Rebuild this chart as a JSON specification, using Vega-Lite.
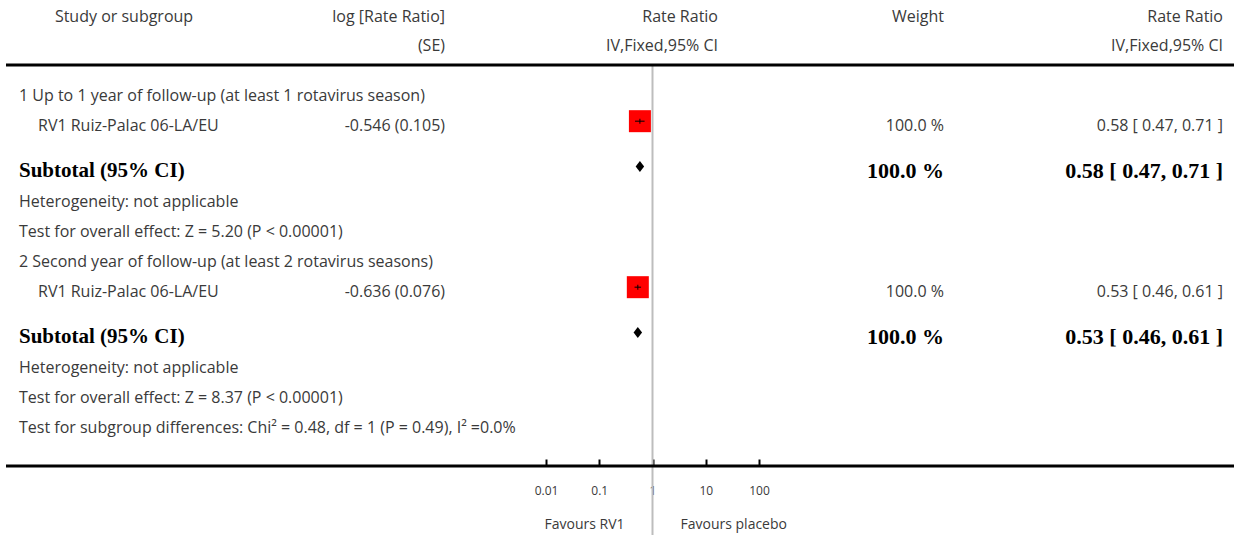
{
  "$schema": "https://vega.github.io/schema/vega-lite/v6.json",
  "width": 1234,
  "height": 535,
  "autosize": {"type": "none"},
  "padding": 0,
  "background": "white",
  "config": {
    "view": {"stroke": null},
    "text": {"font": "Open Sans", "fontSize": 16, "color": "#3a3a3a", "baseline": "middle"}
  },
  "datasets": {
    "header": [
      {"line": "1", "col": "study", "text": "Study or subgroup"},
      {"line": "1", "col": "se", "text": "log [Rate Ratio]"},
      {"line": "2", "col": "se", "text": "(SE)"},
      {"line": "1", "col": "rr", "text": "Rate Ratio"},
      {"line": "2", "col": "rr", "text": "IV,Fixed,95% CI"},
      {"line": "1", "col": "weight", "text": "Weight"},
      {"line": "1", "col": "ci", "text": "Rate Ratio"},
      {"line": "2", "col": "ci", "text": "IV,Fixed,95% CI"}
    ],
    "rows": [
      {"row": "1", "kind": "group", "label": "1 Up to 1 year of follow-up (at least 1 rotavirus season)"},
      {"row": "2", "kind": "study", "label": "RV1 Ruiz-Palac 06-LA/EU", "se": "-0.546 (0.105)", "weight": "100.0 %", "ci": "0.58 [ 0.47, 0.71 ]", "est": 0.58, "lo": 0.47, "hi": 0.71},
      {"row": "3", "kind": "subtotal", "label": "Subtotal (95% CI)", "weight": "100.0 %", "ci": "0.58 [ 0.47, 0.71 ]", "est": 0.58, "lo": 0.47, "hi": 0.71},
      {"row": "4", "kind": "note", "label": "Heterogeneity: not applicable"},
      {"row": "5", "kind": "note", "label": "Test for overall effect: Z = 5.20 (P < 0.00001)"},
      {"row": "6", "kind": "group", "label": "2 Second year of follow-up (at least 2 rotavirus seasons)"},
      {"row": "7", "kind": "study", "label": "RV1 Ruiz-Palac 06-LA/EU", "se": "-0.636 (0.076)", "weight": "100.0 %", "ci": "0.53 [ 0.46, 0.61 ]", "est": 0.53, "lo": 0.46, "hi": 0.61},
      {"row": "8", "kind": "subtotal", "label": "Subtotal (95% CI)", "weight": "100.0 %", "ci": "0.53 [ 0.46, 0.61 ]", "est": 0.53, "lo": 0.46, "hi": 0.61},
      {"row": "9", "kind": "note", "label": "Heterogeneity: not applicable"},
      {"row": "10", "kind": "note", "label": "Test for overall effect: Z = 8.37 (P < 0.00001)"},
      {"row": "11", "kind": "note", "label": "Test for subgroup differences: Chi² = 0.48, df = 1 (P = 0.49), I² =0.0%"}
    ],
    "lines": [{"line": "top"}, {"line": "bottom"}],
    "favours": [{"side": "left", "text": "Favours RV1"}, {"side": "right", "text": "Favours placebo"}]
  },
  "resolve": {"scale": {"x": "independent", "y": "independent"}},
  "layer": [
    {
      "data": {"name": "header"},
      "encoding": {
        "y": {"field": "line", "type": "nominal", "scale": {"type": "point", "domain": ["1", "2"], "range": [17, 46], "padding": 0}, "axis": null},
        "text": {"field": "text"}
      },
      "layer": [
        {"transform": [{"filter": "datum.col == 'study'"}], "mark": {"type": "text", "align": "center"}, "encoding": {"x": {"value": 124}}},
        {"transform": [{"filter": "datum.col == 'se'"}], "mark": {"type": "text", "align": "right"}, "encoding": {"x": {"value": 445}}},
        {"transform": [{"filter": "datum.col == 'rr'"}], "mark": {"type": "text", "align": "right"}, "encoding": {"x": {"value": 718}}},
        {"transform": [{"filter": "datum.col == 'weight'"}], "mark": {"type": "text", "align": "right"}, "encoding": {"x": {"value": 944}}},
        {"transform": [{"filter": "datum.col == 'ci'"}], "mark": {"type": "text", "align": "right"}, "encoding": {"x": {"value": 1223}}}
      ]
    },
    {
      "data": {"name": "rows"},
      "encoding": {
        "y": {"field": "row", "type": "nominal", "scale": {"type": "point", "domain": ["1", "s1", "2", "s2a", "s2b", "3", "s3", "4", "s4", "5", "s5", "6", "s6", "7", "s7a", "s7b", "8", "s8", "9", "s9", "10", "s10", "11"], "range": [96, 428], "padding": 0}, "axis": null}
      },
      "layer": [
        {"transform": [{"filter": "datum.kind == 'group' || datum.kind == 'note'"}], "mark": {"type": "text", "align": "left"}, "encoding": {"x": {"value": 19}, "text": {"field": "label"}}},
        {"transform": [{"filter": "datum.kind == 'study'"}], "mark": {"type": "text", "align": "left"}, "encoding": {"x": {"value": 38}, "text": {"field": "label"}}},
        {"transform": [{"filter": "datum.kind == 'study'"}], "mark": {"type": "text", "align": "right"}, "encoding": {"x": {"value": 445}, "text": {"field": "se"}}},
        {"transform": [{"filter": "datum.kind == 'study'"}], "mark": {"type": "text", "align": "right"}, "encoding": {"x": {"value": 944}, "text": {"field": "weight"}}},
        {"transform": [{"filter": "datum.kind == 'study'"}], "mark": {"type": "text", "align": "right"}, "encoding": {"x": {"value": 1223}, "text": {"field": "ci"}}},
        {"transform": [{"filter": "datum.kind == 'subtotal'"}], "mark": {"type": "text", "align": "left", "font": "Liberation Serif", "fontWeight": "bold", "fontSize": 21, "color": "black"}, "encoding": {"x": {"value": 19}, "text": {"field": "label"}}},
        {"transform": [{"filter": "datum.kind == 'subtotal'"}], "mark": {"type": "text", "align": "right", "font": "Liberation Serif", "fontWeight": "bold", "fontSize": 22, "color": "black"}, "encoding": {"x": {"value": 944}, "text": {"field": "weight"}}},
        {"transform": [{"filter": "datum.kind == 'subtotal'"}], "mark": {"type": "text", "align": "right", "font": "Liberation Serif", "fontWeight": "bold", "fontSize": 22, "color": "black"}, "encoding": {"x": {"value": 1223}, "text": {"field": "ci"}}},
        {
          "transform": [{"filter": "datum.kind == 'study'"}],
          "mark": {"type": "point", "shape": "square", "filled": true, "size": 484, "color": "#ff0000", "opacity": 1, "strokeWidth": 0, "yOffset": -5},
          "encoding": {"x": {"field": "est", "type": "quantitative", "scale": {"type": "log", "domain": [0.01, 100], "range": [546, 759]}, "axis": null}}
        },
        {
          "transform": [{"filter": "datum.kind == 'study'"}],
          "mark": {"type": "rule", "color": "black", "strokeWidth": 1, "yOffset": -5},
          "encoding": {"x": {"field": "lo", "type": "quantitative"}, "x2": {"field": "hi"}}
        },
        {
          "transform": [{"filter": "datum.kind == 'study'"}],
          "mark": {"type": "tick", "orient": "vertical", "color": "black", "size": 5, "thickness": 1, "opacity": 1, "yOffset": -5},
          "encoding": {"x": {"field": "est", "type": "quantitative"}}
        },
        {
          "transform": [{"filter": "datum.kind == 'subtotal'"}],
          "mark": {"type": "point", "shape": "M-1,0L0,-1.3L1,0L0,1.3Z", "filled": true, "size": 72, "color": "black", "opacity": 1, "strokeWidth": 0, "yOffset": -5},
          "encoding": {"x": {"field": "est", "type": "quantitative"}}
        }
      ]
    },
    {
      "data": {"name": "lines"},
      "encoding": {
        "y": {"field": "line", "type": "nominal", "scale": {"type": "point", "domain": ["top", "bottom"], "range": [65, 466], "padding": 0}, "axis": null}
      },
      "layer": [
        {
          "transform": [{"filter": "datum.line == 'top'"}],
          "mark": {"type": "rule", "color": "#bdbdbd", "strokeWidth": 2},
          "encoding": {
            "x": {"datum": 1, "type": "quantitative", "scale": {"type": "log", "domain": [0.01, 100], "range": [546, 759]},
              "axis": {"orient": "bottom", "offset": -69, "domain": false, "grid": false, "ticks": true, "tickSize": -7, "tickWidth": 2, "tickColor": "black", "values": [0.01, 0.1, 1, 10, 100], "format": "~g", "labelFont": "Open Sans", "labelFontSize": 12, "labelColor": "#3a3a3a", "labelPadding": 26, "title": null, "labelFlush": false, "labelOverlap": false}},
            "y2": {"value": "height"}
          }
        },
        {
          "mark": {"type": "rule", "color": "black", "strokeWidth": 3},
          "encoding": {"x": {"value": 6}, "x2": {"value": "width"}}
        },
        {
          "data": {"name": "favours"},
          "transform": [{"filter": "datum.side == 'left'"}],
          "mark": {"type": "text", "align": "right", "baseline": "bottom", "fontSize": 14, "dx": -28, "dy": -3},
          "encoding": {"x": {"datum": 1, "type": "quantitative"}, "y": {"value": "height"}, "text": {"field": "text"}}
        },
        {
          "data": {"name": "favours"},
          "transform": [{"filter": "datum.side == 'right'"}],
          "mark": {"type": "text", "align": "left", "baseline": "bottom", "fontSize": 14, "dx": 28, "dy": -3},
          "encoding": {"x": {"datum": 1, "type": "quantitative"}, "y": {"value": "height"}, "text": {"field": "text"}}
        }
      ]
    }
  ]
}
